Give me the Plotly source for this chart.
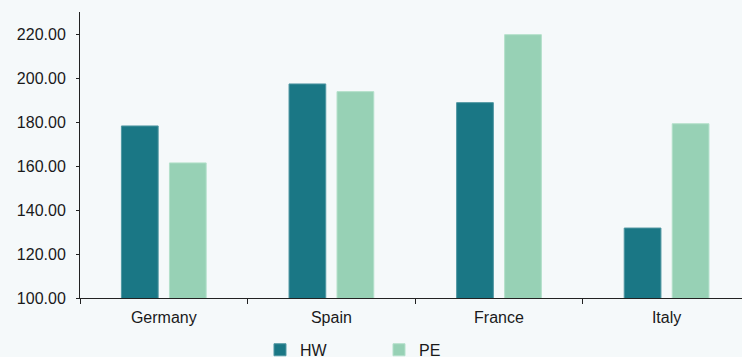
import plotly.graph_objects as go

categories = ["Germany", "Spain", "France", "Italy"]
hw_values = [178.2, 197.3, 188.8, 131.8]
pe_values = [161.4, 193.8, 219.7, 179.2]
series_names = ["HW", "PE"]
y_ticks = [100, 120, 140, 160, 180, 200, 220]

HW_COLOR = "#1a7785"
PE_COLOR = "#97d1b5"
BG = "#f5f9fa"
FONT = "Liberation Sans, Arial, sans-serif"

fig = go.Figure()
fig.add_trace(go.Bar(x=categories, y=hw_values, name=series_names[0],
                     marker=dict(color=HW_COLOR, line=dict(color="#4f97a2", width=1))))
fig.add_trace(go.Bar(x=categories, y=pe_values, name=series_names[1],
                     marker=dict(color=PE_COLOR, line=dict(color="#b3e0ca", width=1))))

fig.update_layout(
    width=742, height=357,
    margin=dict(l=80, r=0, t=12, b=59, autoexpand=False),
    paper_bgcolor=BG, plot_bgcolor=BG,
    font=dict(family=FONT, size=16, color="#1a1a1a"),
    barmode="group", bargap=0.427, bargroupgap=0.235,
    showlegend=True,
    legend=dict(orientation="h", x=0.3504, xref="container", xanchor="left",
                y=0.02, yref="container", yanchor="middle",
                bgcolor="rgba(0,0,0,0)", font=dict(size=16), entrywidth=74,
                traceorder="normal"),
)
fig.update_xaxes(type="category", range=[-0.5, 3.45], showline=True, linecolor="#222222",
                 linewidth=1, ticks="outside", tickson="boundaries", ticklen=5,
                 tickcolor="#222222", showgrid=False, zeroline=False,
                 ticklabelstandoff=5)
fig.update_yaxes(range=[100, 230], tickvals=y_ticks, tickformat=".2f", showline=True,
                 linecolor="#222222", linewidth=1, ticks="outside", ticklen=3,
                 tickcolor="#222222", showgrid=False, zeroline=False,
                 ticklabelstandoff=7)

fig.write_html("out.html")
